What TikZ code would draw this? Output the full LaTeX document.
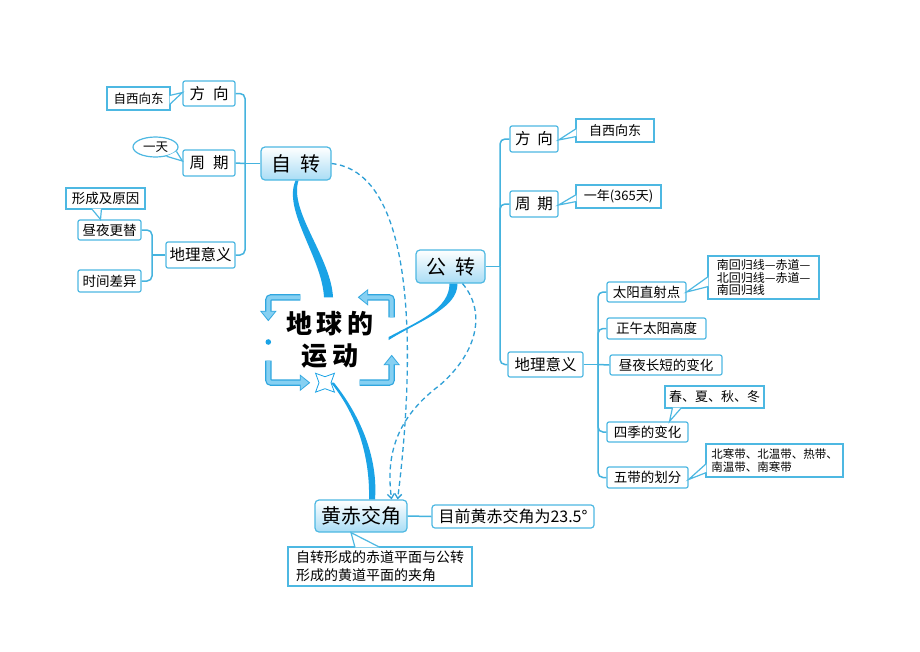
\documentclass[tikz,border=0pt]{standalone}
\usepackage{fontspec}
\setmainfont{Noto Sans CJK SC}
\usepackage{tikz}
\usetikzlibrary{calc,arrows.meta,shapes.geometric}
\definecolor{treeline}{HTML}{45B3DE}
\definecolor{boxline}{HTML}{4DB8E2}
\definecolor{trunk}{HTML}{1AA3E6}
\definecolor{mainfill}{HTML}{A9DDF5}
\definecolor{framefill}{HTML}{86D0F2}
\definecolor{frameedge}{HTML}{2FA6DF}
\definecolor{dashcol}{HTML}{2E9FD6}
\tikzset{
	mainbox/.style={draw=boxline, line width=1.2pt, rounded corners=4pt,
			top color=white, bottom color=mainfill, minimum height=33pt,
			inner sep=0pt, font=\fontsize{20}{24}\selectfont},
	leafbig/.style={draw=boxline, line width=1.2pt, rounded corners=2pt, fill=white,
			minimum height=26pt, inner sep=0pt, font=\fontsize{15.5}{18}\selectfont},
	leaf/.style={leafbig, minimum height=21pt, font=\fontsize{13.5}{16}\selectfont},
	note/.style={draw=boxline, line width=1.2pt, fill=white, inner sep=0pt,
			font=\fontsize{12.5}{14}\selectfont},
	branch/.style={draw=treeline, line width=1.5pt, rounded corners=5pt},
	tailline/.style={draw=boxline, line width=1.2pt},
	trunkfill/.style={fill=trunk},
	dashlink/.style={draw=dashcol, line width=1.3pt, dash pattern=on 5pt off 3.5pt,
			-{Straight Barb[length=4.5pt,width=7pt]}},
	hubedge/.style={draw=frameedge, line width=6.5pt, rounded corners=3pt,
			-{Triangle[width=16pt,length=10.5pt]}},
	hubframe/.style={draw=framefill, line width=4pt, rounded corners=3pt, shorten >=1.6pt,
			-{Triangle[width=12.5pt,length=8pt]}}
}
\newcommand{\calltail}[3]{\fill[white] #1 -- #2 -- #3 -- cycle; \draw[tailline] #1 -- #2 -- #3;}

\begin{document}
\begin{tikzpicture}[x=1pt, y=-1pt]
	\fill[white] (0,0) rectangle (920,651);
	\useasboundingbox (0,0) rectangle (920,651);

	% centre
	\node[font=\bfseries\fontsize{26}{32}\selectfont, align=center, minimum width=123pt,
		minimum height=85pt, inner sep=0pt] (hub) at (330,340) {地\,球\,的\\运\,动};
	\foreach \st in {hubedge, hubframe} {
		\draw[\st] ($(hub.north east)+(0,20)$) |- ($(hub.north east)+(-34,0)$);
		\draw[\st] ($(hub.north west)+(32,0)$) -| ($(hub.north west)+(0,24)$);
		\draw[\st] ($(hub.south west)+(0,-22)$) |- ($(hub.south west)+(42,0)$);
		\draw[\st] ($(hub.south east)+(-32,0)$) -| ($(hub.south east)+(0,-28)$);
	}
	\fill[trunk] ($(hub.west)+(0,2)$) circle (2.8);

	\node[mainbox, minimum width=70pt] (zz) at (296,163.5) {自\hspace{9pt}转};
	\node[mainbox, minimum width=69pt] (gk) at (450.5,266.5) {公\hspace{9pt}转};
	\node[mainbox, minimum width=92pt, minimum height=32pt] (hc) at (361,516) {黄赤交角};

	% left side
	\node[leafbig, minimum width=52pt, minimum height=25pt] (ldir) at (209,93.5) {方\hspace{8pt}向};
	\node[leafbig, minimum width=52pt] (lper) at (209,163) {周\hspace{8pt}期};
	\node[leafbig, minimum width=69pt] (lgeo) at (200.5,255) {地理意义};
	\node[note, minimum width=63pt, minimum height=23pt] (lwe) at (138.5,98.5) {自西向东};
	\node[note, ellipse, minimum width=45pt, minimum height=20pt] (lday1) at (155.5,147) {一天};
	\node[leaf, minimum width=63pt, minimum height=20pt] (lday) at (109.5,230) {昼夜更替};
	\node[leaf, minimum width=63pt, minimum height=22pt] (ltime) at (109.5,281) {时间差异};
	\node[note, minimum width=79pt, minimum height=21pt, font=\fontsize{13.5}{16}\selectfont]
		(lcause) at (105.5,198.5) {形成及原因};

	% right side
	\node[leafbig, minimum width=48pt] (rdir) at (534,139) {方\hspace{7pt}向};
	\node[leafbig, minimum width=48pt] (rper) at (534,204) {周\hspace{7pt}期};
	\node[leafbig, minimum width=75pt, minimum height=25pt] (rgeo) at (545.5,364.5) {地理意义};
	\node[note, minimum width=78pt, minimum height=23pt, font=\fontsize{13}{15}\selectfont]
		(rwe) at (615,130.5) {自西向东};
	\node[note, minimum width=85pt, minimum height=23pt, font=\fontsize{13}{15}\selectfont]
		(ryear) at (618.5,196.5) {一年(365天)};
	\node[leaf, minimum width=79pt, minimum height=20pt] (sun) at (646.5,292) {太阳直射点};
	\node[leaf, minimum width=99pt] (noon) at (656.5,328.5) {正午太阳高度};
	\node[leaf, minimum width=112pt, minimum height=20pt] (dayl) at (666,365) {昼夜长短的变化};
	\node[leaf, minimum width=81pt, minimum height=20pt] (season) at (647.5,432) {四季的变化};
	\node[leaf, minimum width=81pt] (zone) at (647.5,477.5) {五带的划分};
	\node[note, minimum width=111pt, minimum height=43pt, align=left, font=\fontsize{12}{12.5}\selectfont]
		(sunnote) at (763.5,277.5) {南回归线—赤道—\\北回归线—赤道—\\南回归线};
	\node[note, minimum width=99pt, minimum height=22pt, font=\fontsize{13}{15}\selectfont]
		(seasonnote) at (714.5,397) {春、夏、秋、冬};
	\node[note, minimum width=137pt, minimum height=33pt, align=left, font=\fontsize{11.5}{13.5}\selectfont]
		(zonenote) at (774.5,460.5) {北寒带、北温带、热带、\\南温带、南寒带};

	% bottom
	\node[note, rounded corners=3pt, minimum width=162pt, minimum height=23pt,
		font=\fontsize{16}{18}\selectfont] (hcnote) at (513,516.5) {目前黄赤交角为23.5°};
	\node[note, minimum width=184pt, minimum height=39pt, align=left,
		font=\fontsize{14}{18}\selectfont] (hcdef) at (380,566.5) {自转形成的赤道平面与公转\\形成的黄道平面的夹角};

	% tree lines
	\coordinate (ljoin) at (245,163.5);
	\draw[branch] (zz.west) -- (ljoin);
	\draw[branch] (ljoin) |- (ldir.east);
	\draw[branch] (ljoin) -- (lper.east);
	\draw[branch] (ljoin) |- (lgeo.east);
	\coordinate (ljoin2) at (152,255);
	\draw[branch] (lgeo.west) -- (ljoin2);
	\draw[branch] (ljoin2) |- (lday.east);
	\draw[branch] (ljoin2) |- (ltime.east);

	\coordinate (rjoin) at (500,266.5);
	\draw[branch] (gk.east) -- (rjoin);
	\draw[branch] (rjoin) |- (rdir.west);
	\draw[branch] (rjoin) |- (rper.west);
	\draw[branch] (rjoin) |- (rgeo.west);
	\coordinate (rjoin2) at (598,364.5);
	\draw[branch] (rgeo.east) -- (rjoin2);
	\draw[branch] (rjoin2) |- (sun.west);
	\draw[branch] (rjoin2) |- (noon.west);
	\draw[branch] (rjoin2) -- (dayl.west);
	\draw[branch] (rjoin2) |- (season.west);
	\draw[branch] (rjoin2) |- (zone.west);
	\draw[branch] (hc.east) -- (hcnote.west);

	% callout tails
	\calltail{($(lwe.east)+(-1,-3)$)}{($(ldir.west)+(0,-1)$)}{($(lwe.east)+(-1,6)$)}
	\calltail{(lday1.-40)}{($(lper.west)+(0,-2)$)}{(lday1.-12)}
	\calltail{($(lcause.south)+(-14,-1)$)}{($(lday.north)+(-9,0)$)}{($(lcause.south)+(-4,-1)$)}
	\calltail{($(rwe.west)+(1,-2)$)}{($(rdir.east)+(0,1)$)}{($(rwe.west)+(1,6)$)}
	\calltail{($(ryear.west)+(1,-2)$)}{($(rper.east)+(0,1)$)}{($(ryear.west)+(1,5)$)}
	\calltail{($(sunnote.west)+(1,-1)$)}{(sun.east)}{($(sunnote.west)+(1,9)$)}
	\calltail{($(seasonnote.south)+(-42,-1)$)}{($(season.north)+(22,0)$)}{($(seasonnote.south)+(-33,-1)$)}
	\calltail{($(zonenote.west)+(1,3)$)}{($(zone.east)+(0,2)$)}{($(zonenote.west)+(1,12)$)}
	\calltail{($(hcdef.north)+(-25,1)$)}{($(hc.south)+(-10,0)$)}{($(hcdef.north)+(0,1)$)}

	% thick branches
	\fill[trunkfill] ($(zz.south)+(-0.5,0)$) .. controls +(-13,30) and +(-2,-40) .. ($(hub.north)+(-6,0)$)
		-- ($(hub.north)+(3,0)$) .. controls +(-2,-40) and +(-10,30) .. ($(zz.south)+(2.5,0)$) -- cycle;
	\fill[trunkfill] ($(gk.south)+(-1,0)$) .. controls +(0,25) and +(30,-16) .. ($(hub.east)+(-3,-3)$)
		-- ($(hub.east)+(-3,0)$) .. controls +(32,-20) and +(0,25) .. ($(gk.south)+(7,0)$) -- cycle;
	\fill[trunkfill] ($(hub.south)+(1,0)$) .. controls +(28,35) and +(1,-40) .. ($(hc.north)+(8,0)$)
		-- ($(hc.north)+(14,0)$) .. controls +(3,-40) and +(28,35) .. ($(hub.south)+(4,0)$) -- cycle;
	\node[star, star points=4, star point ratio=0.45, draw=trunk, fill=white, line width=0.8pt,
		minimum size=12pt, inner sep=0pt] (spark) at ($(hub.south)+(-5,0)$) {};

	% dashed links
	\draw[dashlink] (zz.east) .. controls (435,175) and (405,440) .. ($(hc.north east)+(-10,0)$);
	\draw[dashlink] ($(gk.south)+(12,0)$) .. controls (485,310) and (480,350) .. (440,385)
		.. controls (400,415) and (385,450) .. ($(hc.north east)+(-16,0)$);
\end{tikzpicture}
\end{document}
